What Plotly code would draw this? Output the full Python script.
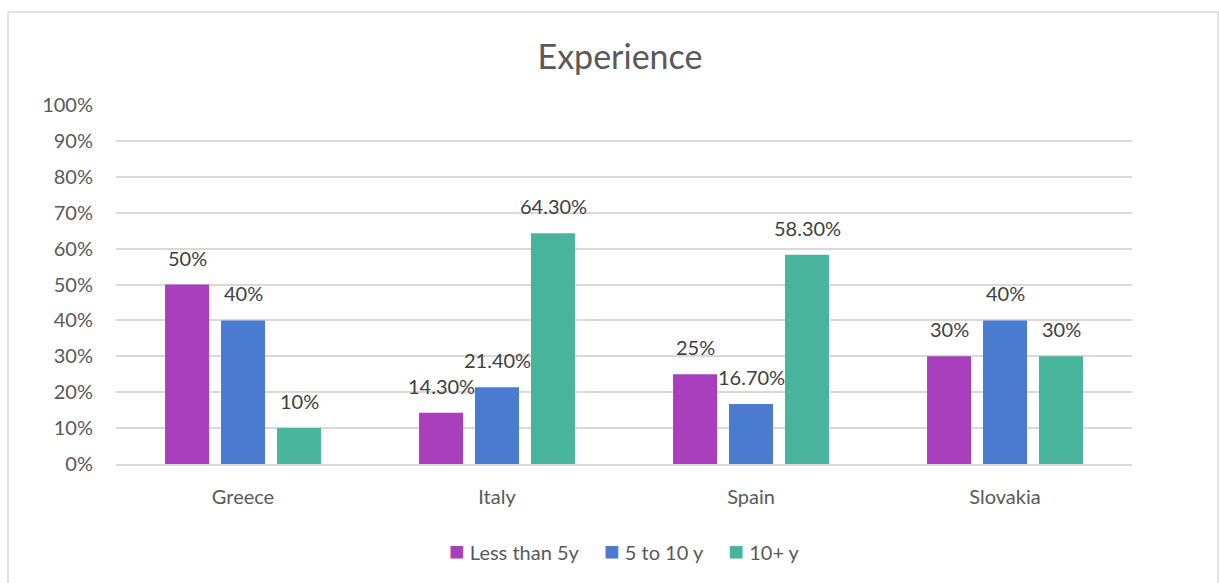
import plotly.graph_objects as go

categories = ["Greece", "Italy", "Spain", "Slovakia"]
series_names = ["Less than 5y", "5 to 10 y", "10+ y"]
less_than_5y = [0.50, 0.143, 0.25, 0.30]
five_to_10y = [0.40, 0.214, 0.167, 0.40]
ten_plus_y = [0.10, 0.643, 0.583, 0.30]
labels_less = ["50%", "14.30%", "25%", "30%"]
labels_mid = ["40%", "21.40%", "16.70%", "40%"]
labels_plus = ["10%", "64.30%", "58.30%", "30%"]
colors = ["#AA3FBE", "#4A7BD0", "#47B49B"]

W, H = 1219, 583
L, R, T, B = 116, 1132, 105, 464
FONT = "Lato, Open Sans, sans-serif"

fig = go.Figure()
all_vals = [less_than_5y, five_to_10y, ten_plus_y]
all_labs = [labels_less, labels_mid, labels_plus]
for name, vals, col in zip(series_names, all_vals, colors):
    fig.add_trace(go.Bar(
        name=name, x=categories, y=vals,
        marker=dict(color=col, line=dict(width=0)),
        showlegend=False,
    ))

# data labels anchored at each bar's category and value
shifts = [-56, 0, 56]
for vals, labs, sh in zip(all_vals, all_labs, shifts):
    for c, v, t in zip(categories, vals, labs):
        fig.add_annotation(x=c, y=v, text=t, xshift=sh, yshift=27, showarrow=False,
                           xanchor="center", yanchor="middle",
                           font=dict(family=FONT, size=20, color="#404040"))

pw = R - L
ph = B - T
def px_x(x):
    return (x - L) / pw
def px_y(y):
    return (B - y) / ph

fig.add_shape(type="rect", xref="paper", yref="paper",
              x0=px_x(8), x1=px_x(1218), y0=px_y(600), y1=px_y(12),
              line=dict(color="#D9D9D9", width=1.5), fillcolor="rgba(0,0,0,0)", layer="below")

# legend as a single text line with coloured squares
legend_html = "&nbsp;&nbsp;&nbsp;&nbsp;&nbsp;".join(
    f"<span style='color:{c};font-size:26px'>■</span>&nbsp;{n}" for n, c in zip(series_names, colors))
fig.add_annotation(xref="paper", yref="paper", x=px_x(624), y=px_y(550),
                   text=legend_html, showarrow=False, xanchor="center", yanchor="middle",
                   font=dict(family=FONT, size=20, color="#595959"))

fig.update_layout(
    width=W, height=H,
    margin=dict(l=L, r=W - R, t=T, b=H - B),
    paper_bgcolor="white", plot_bgcolor="white",
    barmode="group", bargap=0.339, bargroupgap=0.214,
    title=dict(text="Experience", xref="container", x=620 / W, xanchor="center",
               yref="container", y=1 - 57 / H, yanchor="middle",
               font=dict(family=FONT, size=34, color="#595959")),
    font=dict(family=FONT, size=20, color="#595959"),
    showlegend=False,
    yaxis=dict(range=[0, 1], dtick=0.1, tickformat=".0%", showgrid=True,
               gridcolor="#D9D9D9", gridwidth=1.5, zeroline=False, showline=False,
               ticks="", ticklabelstandoff=22, tickfont=dict(family=FONT, size=20, color="#595959")),
    xaxis=dict(showline=True, linecolor="#D9D9D9", linewidth=1.5, ticks="",
               ticklabelstandoff=14, tickfont=dict(family=FONT, size=20, color="#595959")),
)

fig.write_html("out.html")
